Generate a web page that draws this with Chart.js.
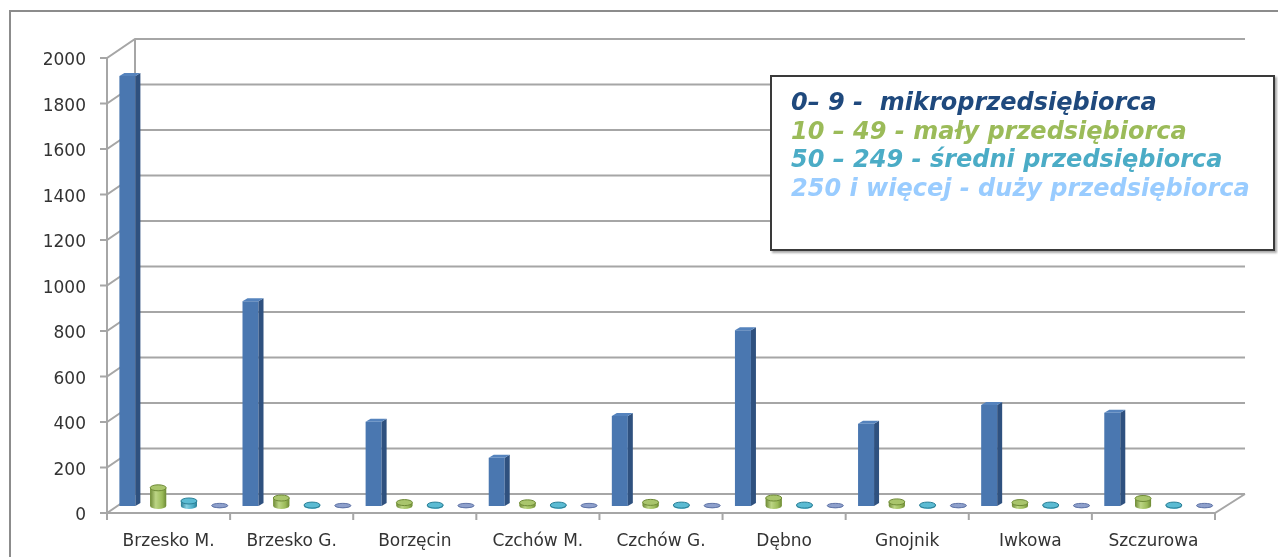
<!DOCTYPE html>
<html lang="pl">
<head>
<meta charset="utf-8">
<script src="https://cdn.jsdelivr.net/npm/chart.js@4.4.1/dist/chart.umd.min.js"></script>
<style>
  html, body { margin: 0; padding: 0; background: #fff; }
  #wrap { position: relative; width: 1278px; height: 557px; overflow: hidden; }
  #legendBox {
    position: absolute; left: 770px; top: 75px; width: 505px; height: 176px;
    border: 2px solid #3a3a3a; background: #fff; box-shadow: 2px 2px 2px #aaa;
    padding: 11px 0 0 19px; box-sizing: border-box;
    font: italic bold 24px "DejaVu Sans", Verdana, sans-serif; line-height: 28.5px;
  }
  #legendBox div { white-space: pre; }
</style>
</head>
<body>
<div id="wrap">
  <canvas id="chart" width="1278" height="557"></canvas>
  <div id="legendBox">
    <div style="color:#1f497d">0– 9 -  mikroprzedsiębiorca</div>
    <div style="color:#9bbb59">10 – 49 - mały przedsiębiorca</div>
    <div style="color:#4bacc6">50 – 249 - średni przedsiębiorca</div>
    <div style="color:#99ccff">250 i więcej - duży przedsiębiorca</div>
  </div>
</div>
<script>
// gminy
const categories = ["Brzesko M.", "Brzesko G.", "Borzęcin", "Czchów M.", "Czchów G.", "Dębno", "Gnojnik", "Iwkowa", "Szczurowa"];
// liczba firm wg wielkości
const mikro  = [1890, 900, 370, 212, 396, 772, 361, 444, 410];
const maly   = [80, 35, 15, 14, 16, 35, 18, 15, 33];
const sredni = [22, 4, 4, 4, 4, 4, 4, 4, 4];
const duzy   = [2, 2, 2, 2, 2, 2, 2, 2, 2];
const yTicks = [0, 200, 400, 600, 800, 1000, 1200, 1400, 1600, 1800, 2000];

// depth offsets (front axis -> bar plane -> back wall)
const BAR_DX = 5, BAR_DY = -7;
const WALL_DX = 28, WALL_DY = -19;

const cylColors = {
    1: { base: "#9bbb59", dark: "#6e8a36", light: "#bcd585", top: "#a9c56c" },
    2: { base: "#4bacc6", dark: "#2a7f96", light: "#86d0e2", top: "#5bbbd3" },
    3: { base: "#8094c6", dark: "#6074a6", light: "#a2b2da", top: "#8ea0cc" }
};

const fakeThreeD = {
    id: "fakeThreeD",
    beforeDatasetsDraw(chart) {
        const { ctx, chartArea: a, scales: { x, y } } = chart;
        ctx.save();
        ctx.strokeStyle = "#a6a6a6";
        ctx.lineWidth = 2;
        ctx.beginPath();
        yTicks.forEach(v => {
            const py = y.getPixelForValue(v);
            ctx.moveTo(a.left - 7, py);
            ctx.lineTo(a.left, py);
            ctx.lineTo(a.left + WALL_DX, py + WALL_DY);
            ctx.lineTo(a.right + WALL_DX + 2, py + WALL_DY);
        });
        // side wall back edge + front axis
        ctx.moveTo(a.left + WALL_DX, a.top + WALL_DY);
        ctx.lineTo(a.left + WALL_DX, a.bottom + WALL_DY);
        ctx.moveTo(a.left, a.top);
        ctx.lineTo(a.left, a.bottom);
        // floor
        ctx.moveTo(a.left, a.bottom);
        ctx.lineTo(a.right, a.bottom);
        ctx.lineTo(a.right + WALL_DX + 2, a.bottom + WALL_DY);
        // category ticks
        const step = (a.right - a.left) / categories.length;
        for (let i = 0; i <= categories.length; i++) {
            const px = x.getPixelForValue(0) - step / 2 + i * step;
            ctx.moveTo(px, a.bottom);
            ctx.lineTo(px, a.bottom + 7);
        }
        ctx.stroke();
        ctx.restore();

        // bars sit a bit deeper than the front axis
        ctx.save();
        ctx.translate(BAR_DX, BAR_DY);
    },
    afterDatasetsDraw(chart) {
        const { ctx } = chart;
        // box sides for the first series
        chart.getDatasetMeta(0).data.forEach(el => {
            const { x, y, base, width } = el.getProps(["x", "y", "base", "width"], true);
            const l = x - width / 2, r = x + width / 2, d = 5, h = -3;
            ctx.fillStyle = "#2f517f";
            ctx.beginPath();
            ctx.moveTo(r, y); ctx.lineTo(r + d, y + h); ctx.lineTo(r + d, base + h); ctx.lineTo(r, base);
            ctx.closePath(); ctx.fill();
            ctx.fillStyle = "#5583bd";
            ctx.beginPath();
            ctx.moveTo(l, y); ctx.lineTo(l + d, y + h); ctx.lineTo(r + d, y + h); ctx.lineTo(r, y);
            ctx.closePath(); ctx.fill();
        });
        // cylinders for the others
        [1, 2, 3].forEach(di => {
            const c = cylColors[di];
            chart.getDatasetMeta(di).data.forEach(el => {
                const { x, y, base, width } = el.getProps(["x", "y", "base", "width"], true);
                const rx = width / 2, ry = di === 3 ? 2.2 : 3;
                const g = ctx.createLinearGradient(x - rx, 0, x + rx, 0);
                g.addColorStop(0, c.dark);
                g.addColorStop(0.35, c.light);
                g.addColorStop(0.75, c.base);
                g.addColorStop(1, c.dark);
                ctx.fillStyle = g;
                ctx.beginPath();
                ctx.moveTo(x - rx, y);
                ctx.lineTo(x - rx, base);
                ctx.ellipse(x, base, rx, ry, 0, Math.PI, 0, true);
                ctx.lineTo(x + rx, y);
                ctx.closePath();
                ctx.fill();
                ctx.fillStyle = c.top;
                ctx.strokeStyle = c.dark;
                ctx.lineWidth = 1;
                ctx.beginPath();
                ctx.ellipse(x, y, rx, ry, 0, 0, Math.PI * 2);
                ctx.fill();
                ctx.stroke();
            });
        });
        ctx.restore();
    },
    afterDraw(chart) {
        const { ctx } = chart;
        ctx.save();
        ctx.strokeStyle = "#8c8c8c";
        ctx.lineWidth = 2;
        ctx.strokeRect(10, 11, 1300, 600);
        ctx.restore();
    }
};

const tickFont = { family: "'DejaVu Sans', Verdana, sans-serif", size: 17 };

new Chart(document.getElementById("chart"), {
    type: "bar",
    data: {
        labels: categories,
        datasets: [
            { label: "0-9", data: mikro, backgroundColor: "#4a77b0" },
            { label: "10-49", data: maly, backgroundColor: "#9bbb59" },
            { label: "50-249", data: sredni, backgroundColor: "#4bacc6" },
            { label: "250+", data: duzy, backgroundColor: "#8094c6" }
        ]
    },
    options: {
        responsive: false,
        animation: false,
        events: [],
        layout: { padding: { left: 10, top: 58, right: 63, bottom: 0 } },
        datasets: { bar: { barPercentage: 0.52, categoryPercentage: 1.0, clip: false } },
        plugins: { legend: { display: false }, tooltip: { enabled: false } },
        scales: {
            x: {
                grid: { display: false },
                border: { display: false },
                ticks: { font: tickFont, color: "#333", padding: 10, maxRotation: 0 },
                afterFit(s) { s.height = 44; }
            },
            y: {
                min: 0,
                max: 2000,
                grid: { display: false },
                border: { display: false },
                ticks: { font: tickFont, color: "#333", padding: 13, labelOffset: 3, callback: v => String(v) },
                afterBuildTicks(s) { s.ticks = yTicks.map(v => ({ value: v })); },
                afterFit(s) { s.width = 97; }
            }
        }
    },
    plugins: [fakeThreeD]
});
</script>
</body>
</html>
